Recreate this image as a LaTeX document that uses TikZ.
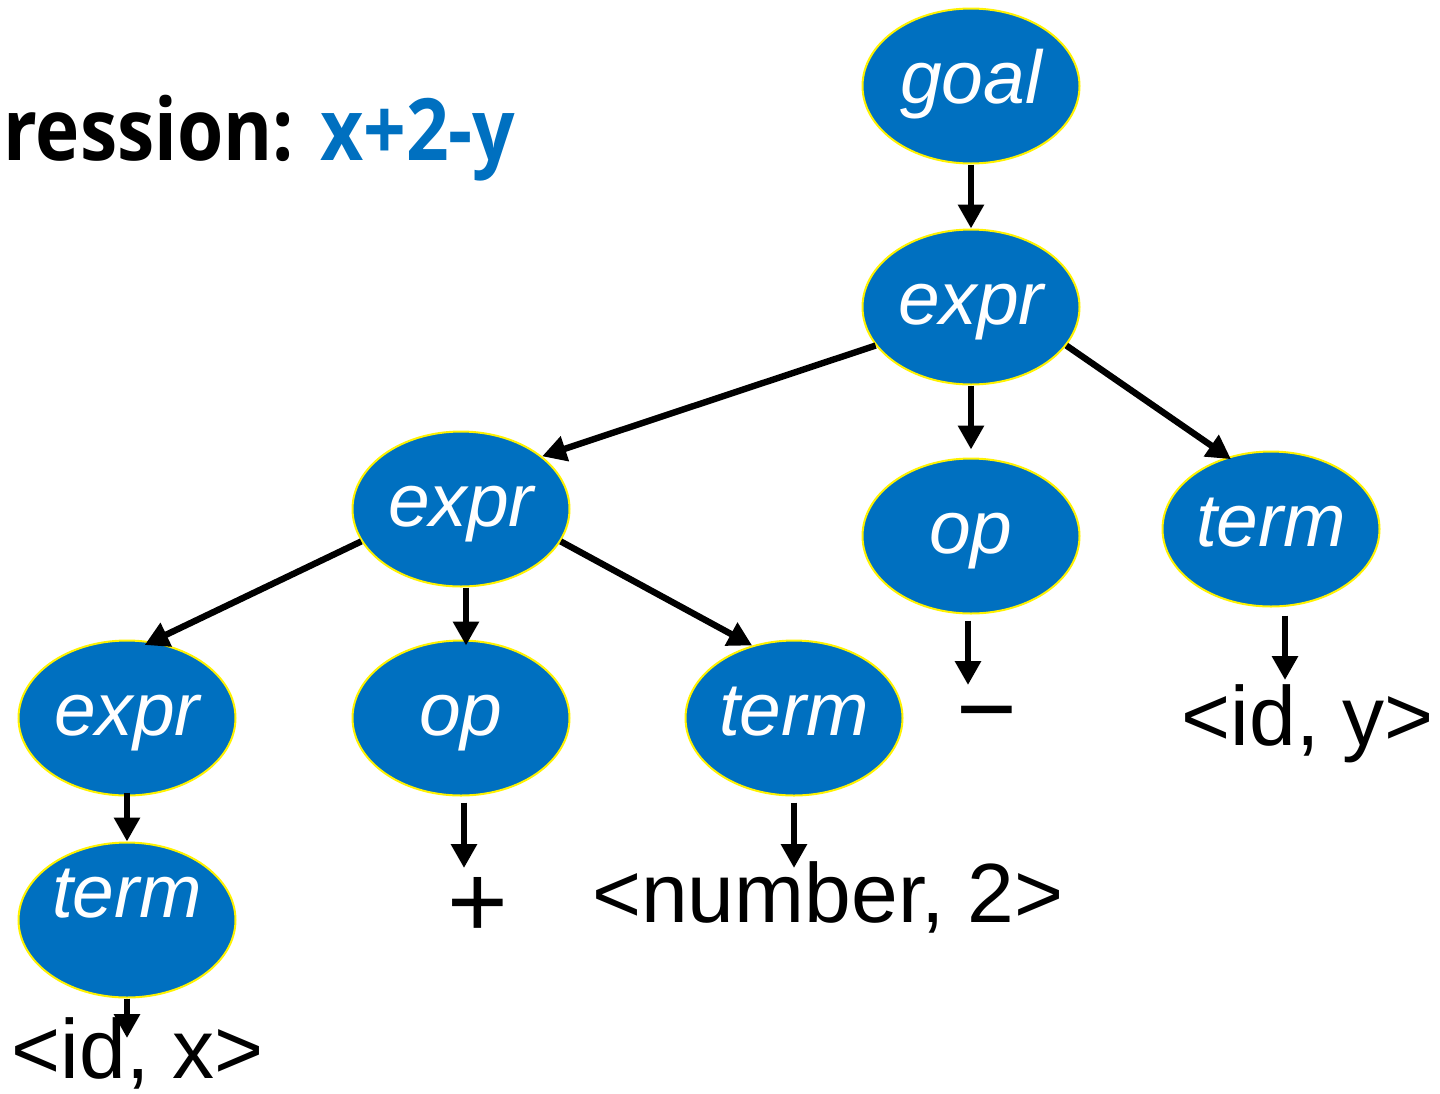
\documentclass[tikz,border=0pt]{standalone}
\usepackage{fontspec}
\setmainfont{Liberation Sans}
\newfontfamily\titlefont[FakeStretch=0.87]{Open Sans}
\usetikzlibrary{shapes.geometric,arrows.meta}
\definecolor{nodeblue}{HTML}{0070C0}
\tikzset{
  tnode/.style={ellipse, fill=nodeblue, draw=yellow, line width=1pt,
    minimum width=108.5pt, minimum height=77.5pt, inner sep=0pt,
    text=white, font=\fontsize{37.5}{40}\selectfont\itshape,
    text height=17pt, text depth=0pt},
  leaf/.style={anchor=base, inner sep=0pt, font=\fontsize{42}{45}\selectfont},
  bigsym/.style={anchor=base, inner sep=0pt, font=\fontsize{52}{55}\selectfont},
  arr/.style={line width=3.2pt, -{Triangle[width=12.5pt,length=12pt]}}
}
\begin{document}
\begin{tikzpicture}[x=0.5pt,y=-0.5pt]
\useasboundingbox (0,0) rectangle (1440,1093);
% title
\node[anchor=base west, inner sep=0pt, font=\titlefont\bfseries\fontsize{43}{46}\selectfont] (title) at (3,160)
  {ression: \textcolor{nodeblue}{x+2-y}};
% tree nodes
\node[tnode] (goal)  at (971,86)  {goal};
\node[tnode] (etop)  at (971,307) {expr};
\node[tnode] (emid)  at (461,509) {expr};
\node[tnode] (opr)   at (971,536) {op};
\node[tnode] (termR) at (1271,529) {term};
\node[tnode] (eleft) at (127,718) {expr};
\node[tnode] (opm)   at (461,718) {op};
\node[tnode] (termM) at (794,718) {term};
\node[tnode, text height=0pt, text depth=3pt] (tb) at (127,920) {term};
% leaves
\node[leaf] (idx)   at (138,1078) {<id, x>};
\node[bigsym] (plus)  at (478,937)  {+};
\node[leaf] (num)   at (828,922)  {<number, 2>};
\node[bigsym] (minus) at (987,744)  {−};
\node[leaf] (idy)   at (1308,745) {<id, y>};
% arrow tips near leaves
\coordinate (tipMinus) at (968,685);
\coordinate (tipIdy)   at (1285,680);
\coordinate (tipPlus)  at (464,868);
\coordinate (tipNum)   at (794,868);
\coordinate (tipIdx)   at (127,1038);
% connectors
\draw[arr] (goal) -- (etop);
\draw[arr] (etop.202) -- (emid.33);
\draw[arr, shorten >=4pt] (etop) -- (opr);
\draw[arr, shorten >=-2pt] (etop.338) -- (termR.121);
\draw[arr, shorten >=-4pt] (emid.198) -- (eleft.72);
\draw[arr, shorten >=-3pt] ([xshift=2.5pt]emid.south) -- ([xshift=2.5pt]opm.north);
\draw[arr] (emid.342) -- (termM.120);
\draw[arr, shorten <=3pt] (opr.south -| tipMinus) -- (tipMinus);
\draw[arr, shorten <=4pt] (termR.south -| tipIdy) -- (tipIdy);
\draw[arr, shorten <=-2pt] (eleft) -- (tb);
\draw[arr, shorten <=3pt] (opm.south -| tipPlus) -- (tipPlus);
\draw[arr, shorten <=3pt] (termM.south -| tipNum) -- (tipNum);
\draw[arr] (tb) -- (tipIdx);
\end{tikzpicture}
\end{document}
